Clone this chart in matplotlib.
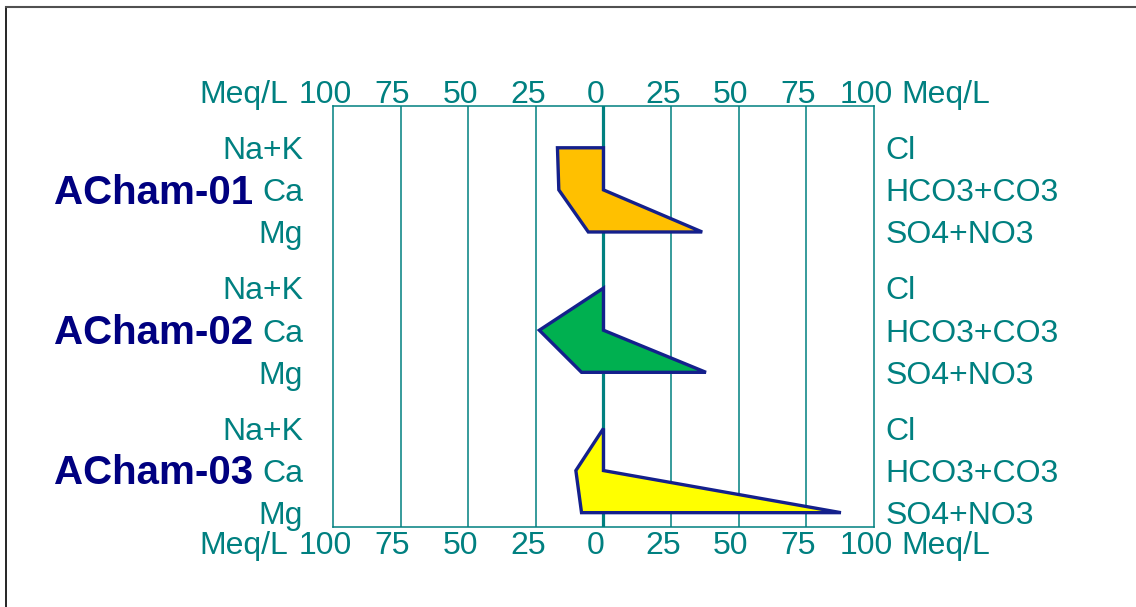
import matplotlib.pyplot as plt
from matplotlib.patches import Polygon
from matplotlib.lines import Line2D
from matplotlib.transforms import ScaledTranslation

# Stiff diagram data (meq/L)
samples = ['ACham-01', 'ACham-02', 'ACham-03']
cations = ['Na+K', 'Ca', 'Mg']
anions = ['Cl', 'HCO3+CO3', 'SO4+NO3']
cation_vals = [[17.0, 16.5, 5.6],
               [0.0, 23.7, 8.1],
               [0.0, 10.2, 8.1]]
anion_vals = [[0.0, 0.0, 36.5],
              [0.0, 0.0, 37.9],
              [0.0, 0.0, 87.8]]
ticks = [-100, -75, -50, -25, 0, 25, 50, 75, 100]
tick_labels = ['100', '75', '50', '25', '0', '25', '50', '75', '100']
fills = ['#FFC000', '#00B050', '#FFFF00']

teal = '#008080'
navy = '#000080'
edge = '#14208C'
fs = 23
plt.rcParams['font.family'] = ['Liberation Sans', 'DejaVu Sans']

fig = plt.figure(figsize=(11.36, 6.07), dpi=100)
ax = fig.add_axes([0.2931, 0.1323, 0.4762, 0.6936])
ax.set_xlim(-100, 100)
ax.set_ylim(9, -1)
ax.set_xticks([])
ax.set_yticks([])
for sp in ax.spines.values():
    sp.set_color(teal)
    sp.set_linewidth(1.1)

# vertical grid, thicker zero line
for x in ticks[1:-1]:
    ax.axvline(x, color=teal, lw=2.3 if x == 0 else 1.1, zorder=1)

gap = 10 / 3
for i, name in enumerate(samples):
    rows = [i * gap + r for r in range(3)]
    left = [(-v, y) for v, y in zip(cation_vals[i], rows)]
    right = [(v, y) for v, y in zip(anion_vals[i], rows)][::-1]
    ax.add_patch(Polygon(left + right, closed=True, facecolor=fills[i],
                         edgecolor=edge, lw=2.4, joinstyle='miter', zorder=3))
    for ion, y in zip(cations, rows):
        ax.text(-111, y + 0.27, ion, ha='right', va='baseline', fontsize=fs,
                color=teal, clip_on=False)
    for ion, y in zip(anions, rows):
        ax.text(104.4, y + 0.27, ion, ha='left', va='baseline', fontsize=fs,
                color=teal, clip_on=False)
    ax.text(-129.5, rows[1] + 0.33, name, ha='right', va='baseline',
            fontsize=29, fontweight='bold', color=navy, clip_on=False)

# scale labels above and below, nudged slightly left
shift = ax.transData + ScaledTranslation(-0.08, 0, fig.dpi_scale_trans)
for y in (-1.06, 9.65):
    for x, lab in zip(ticks, tick_labels):
        ax.text(x, y, lab, transform=shift, ha='center', va='baseline',
                fontsize=fs, color=teal, clip_on=False)
    ax.text(-116.6, y, 'Meq/L', ha='right', va='baseline', fontsize=fs,
            color=teal, clip_on=False)
    ax.text(110.2, y, 'Meq/L', ha='left', va='baseline', fontsize=fs,
            color=teal, clip_on=False)

# outer frame (left and top edges)
x0 = 6.3 / 1136
y0 = 1 - 7.3 / 607
fig.add_artist(Line2D([x0, x0], [0, y0], transform=fig.transFigure,
                      color='black', lw=1.2))
fig.add_artist(Line2D([x0, 1], [y0, y0], transform=fig.transFigure,
                      color='#505050', lw=1.5))

fig.savefig('out.png', dpi=100)
